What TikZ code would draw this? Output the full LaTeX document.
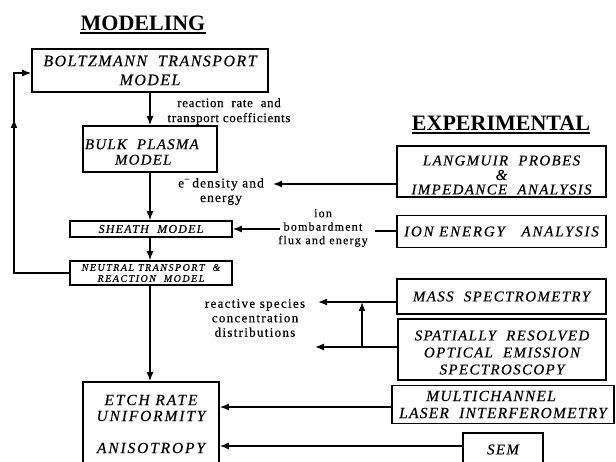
\documentclass[tikz,border=0pt]{standalone}
\usepackage{fontspec}
\setmainfont{Liberation Serif}
\usetikzlibrary{arrows.meta}
% size, baseline skip, letter spacing (slightly emboldened)
\newcommand\setsz[3]{\fontsize{#1}{#2}\selectfont\addfontfeature{LetterSpace=#3,FakeBold=0.4}}
% taller first line, pushes a block of lines down inside its box
\newcommand\lowerby[1]{\rule{0pt}{#1}}

\begin{document}
\begin{tikzpicture}[x=1pt,y=-1pt,
  box/.style={draw, line width=1.7pt, inner sep=0pt, align=center},
  bt/.style n args={3}{font={\itshape\setsz{#1}{#2}{#3}}},
  lbl/.style={inner sep=0pt, align=center},
  lt/.style n args={3}{font={\setsz{#1}{#2}{#3}}},
  conn/.style={line width=1.3pt},
  arr/.style={conn, -{Latex[length=9pt,width=7pt]}},
  head/.style={inner sep=0pt, font=\bfseries\fontsize{22}{24}\selectfont}
]
\useasboundingbox (0,0) rectangle (616,462);

% column headings
\node[head] (mod) at (143,23) {MODELING};
\draw[line width=1.2pt] ([yshift=-2.5pt]mod.south west) -- ([yshift=-2.5pt]mod.south east);
\node[head] (exp) at (501,123) {EXPERIMENTAL};
\draw[line width=1.2pt] ([yshift=-2.5pt]exp.south west) -- ([yshift=-2.5pt]exp.south east);

% modeling chain
\node[box, bt={16}{19}{9}, minimum width=236pt, minimum height=43pt] (boltz) at (150,70.5)
  {BOLTZMANN\ \ TRANSPORT\\MODEL};
\node[box, bt={15}{15.5}{8}, minimum width=134pt, minimum height=46pt, align=left, text width=130pt] (bulk) at (150,149)
  {\lowerby{16pt}BULK\ \ PLASMA\\\hspace*{30pt}MODEL};
\node[box, bt={12}{14}{10}, minimum width=162pt, minimum height=16pt] (sheath) at (151,229)
  {SHEATH\ \ MODEL};
\node[box, bt={10}{11}{15}, minimum width=162pt, minimum height=24pt] (neutral) at (151,273)
  {NEUTRAL\ TRANSPORT\ \ \&\\REACTION\ \ MODEL};
\node[box, bt={15.5}{16}{12}, minimum width=136pt, minimum height=84pt] (etch) at (151,424)
  {ETCH\ RATE\\UNIFORMITY\\[16pt]ANISOTROPY};

% experimental boxes
\node[box, bt={15}{14.5}{9}, minimum width=209pt, minimum height=51pt] (langmuir) at (501.5,171.5)
  {\lowerby{17pt}LANGMUIR\ \ PROBES\\\&\\IMPEDANCE\ \ ANALYSIS};
\node[box, bt={15}{16}{12}, minimum width=209pt, minimum height=32pt] (ionen) at (501.5,231.5)
  {ION\ ENERGY\ \ \ ANALYSIS};
\node[box, bt={15}{16}{9}, minimum width=209pt, minimum height=35pt] (mass) at (501.5,296.5)
  {MASS\ \ SPECTROMETRY};
\node[box, bt={15}{17}{9}, minimum width=208pt, minimum height=61pt] (spatial) at (502,349.5)
  {\lowerby{16pt}SPATIALLY\ \ RESOLVED\\OPTICAL\ \ EMISSION\\SPECTROSCOPY};
\node[box, bt={15.5}{17}{8}, minimum width=222pt, minimum height=38pt] (multi) at (503,404.5)
  {MULTICHANNEL\hspace*{24pt}\\LASER\ \ INTERFEROMETRY};
\node[box, bt={15}{16}{9}, minimum width=80pt, minimum height=33pt] (sem) at (503,449.5)
  {SEM};

% connector labels
\node[lbl, lt={13}{15}{5}] (rate) at (229,111.5) {reaction\ \ rate\ \ and\\transport\ coefficients};
\node[lbl, lt={13.5}{14.5}{8}] (dens) at (221,191.5) {e\textsuperscript{−}\,density\ and\\energy};
\node[lbl, lt={12}{13.5}{10}] (ion) at (323,228) {ion\\bombardment\\flux\ and\ energy};
\node[lbl, lt={13}{14.5}{10}] (react) at (255,318) {reactive\ species\\concentration\\distributions};

% free ends of connectors
\coordinate (tipDens) at (273,184);
\coordinate (ionL) at (280,229);
\coordinate (ionR) at (375,231);
\coordinate (tipMass) at (318,302);
\coordinate (tipSpat) at (315,347);
\coordinate (jLow) at (362,347);
\coordinate (jHigh) at (362,302);
\coordinate (fbL) at (14,273);
\coordinate (fbT) at (14,73);
\coordinate (fbMid) at (14,119);
\coordinate (yMulti) at (0,407);
\coordinate (ySem) at (0,446);

% modeling flow
\draw[arr] (boltz.south) -- (bulk.north);
\draw[arr] (bulk.south) -- (bulk.south |- sheath.north);
\draw[arr] (bulk.south |- sheath.south) -- (bulk.south |- neutral.north);
\draw[arr] (bulk.south |- neutral.south) -- (bulk.south |- etch.north);

% feedback loop
\draw[arr] (neutral.west) -- (fbL) -- (fbT) -- (boltz.west |- fbT);
\draw[arr] (fbL) -- (fbMid);

% measurements feeding the models
\draw[arr] (langmuir.west |- tipDens) -- (tipDens);
\draw[conn] (ionen.west |- ionR) -- (ionR);
\draw[arr] (ionL) -- (sheath.east);
\draw[arr] (mass.west |- tipMass) -- (tipMass);
\draw[arr] (spatial.west |- tipSpat) -- (tipSpat);
\draw[arr] (jLow) -- (jHigh);
\draw[arr] (multi.west |- yMulti) -- (etch.east |- yMulti);
\draw[arr] (sem.west |- ySem) -- (etch.east |- ySem);
\end{tikzpicture}
\end{document}
